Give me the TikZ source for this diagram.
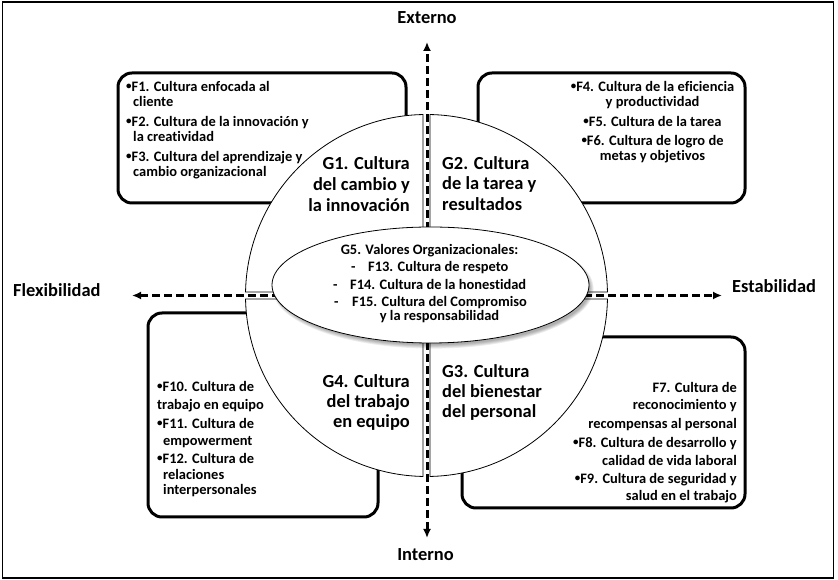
\documentclass[tikz,border=0pt]{standalone}
\usepackage{fontspec}
\setmainfont{Carlito}[Ligatures={NoCommon}]
\usetikzlibrary{arrows.meta}
\newcommand\bul{\raisebox{2.2bp}{\fontsize{11}{11}\selectfont •}}
\begin{document}
\begin{tikzpicture}[x=1bp,y=1bp,
  frame/.style={line width=1.3bp},
  fbox/.style={line width=3bp, rounded corners=14bp},
  quad/.style={line width=0.8bp, fill=white},
  axis/.style={line width=3bp, dash pattern=on 8bp off 4bp, {Latex[length=9bp,width=8bp]}-{Latex[length=9bp,width=8bp]}},
  big/.style={font=\fontsize{18.5}{21}\selectfont\bfseries, inner sep=0pt},
  sm/.style={font=\fontsize{14.5}{16}\selectfont\bfseries, inner sep=0pt}]
\useasboundingbox (0,0) rectangle (838,580);
\draw[frame] (2.5,2) rectangle (833.5,578);
% boxes
\draw[fbox] (118,377) rectangle (406,507);
\draw[fbox] (478,377) rectangle (745,507);
\draw[fbox] (148,63) rectangle (378,267);
\draw[fbox] (462,72) rectangle (745,243);
% quadrants
\coordinate (c) at (426.5,284.5);
\pgfmathsetmacro\ga{asin(3.5/181)}
\pgfmathsetmacro\aA{90+\ga}\pgfmathsetmacro\aB{180-\ga}
\pgfmathsetmacro\aC{180+\ga}\pgfmathsetmacro\aD{270-\ga}
\pgfmathsetmacro\aE{270+\ga}\pgfmathsetmacro\aF{360-\ga}
\pgfmathsetmacro\aG{\ga}\pgfmathsetmacro\aH{90-\ga}
\draw[quad] ([shift={(c)}]-3.5,3.5) -- ([shift={(c)}]\aA:181) arc[start angle=\aA, end angle=\aB, radius=181] -- cycle;
\draw[quad] ([shift={(c)}]-3.5,-3.5) -- ([shift={(c)}]\aC:181) arc[start angle=\aC, end angle=\aD, radius=181] -- cycle;
\draw[quad] ([shift={(c)}]3.5,-3.5) -- ([shift={(c)}]\aE:181) arc[start angle=\aE, end angle=\aF, radius=181] -- cycle;
\draw[quad] ([shift={(c)}]3.5,3.5) -- ([shift={(c)}]\aG:181) arc[start angle=\aG, end angle=\aH, radius=181] -- cycle;
% axes
\coordinate (top) at (427,538);
\coordinate (bot) at (427,42);
\coordinate (lft) at (132,284.5);
\coordinate (rgt) at (722,284.5);
\draw[axis] (bot) -- (top);
\draw[axis] (lft) -- (rgt);
% ellipse with soft shadow
\foreach \k in {0,1,2,3,4}
  \fill[black, opacity=0.07] (433,291.5) ellipse [x radius=158.5+\k*0.9-1.5, y radius=58+\k*0.9-1.5];
\fill[white] (430.5,295) ellipse [x radius=158.5, y radius=58];
\draw[line width=0.8bp] (430.5,295) ellipse [x radius=158.5, y radius=58];
% axis labels
\node[big, anchor=base] (ext) at (427,556) {Externo};
\node[big, anchor=base] (int) at (425.5,19) {Interno};
\node[big, anchor=base west] (flex) at (13,283) {Flexibilidad};
\node[big, anchor=base west] (est) at (732,287) {Estabilidad};
% G labels
\foreach \y/\t [count=\i] in {410/{G1. Cultura},389/{del cambio y},368/{la innovación}}
  \node[big, anchor=base east] (ga\i) at (410,\y) {\t};
\foreach \y/\t [count=\i] in {410/{G2. Cultura},390/{de la tarea y},369/{resultados}}
  \node[big, anchor=base west] (gb\i) at (442,\y) {\t};
\foreach \y/\t [count=\i] in {192/{G4. Cultura},172/{del trabajo},152/{en equipo}}
  \node[big, anchor=base east] (gd\i) at (410,\y) {\t};
\foreach \y/\t [count=\i] in {202/{G3. Cultura},182/{del bienestar},162/{del personal}}
  \node[big, anchor=base west] (gc\i) at (442,\y) {\t};
% TL box text
\foreach \x/\y/\t [count=\i] in {126/488/{\bul F1. Cultura enfocada al},133/473/{cliente},126/453/{\bul F2. Cultura de la innovación y},133/438/{la creatividad},126/418/{\bul F3. Cultura del aprendizaje y},133/403/{cambio organizacional}}
  \node[sm, anchor=base west] (tl\i) at (\x,\y) {\t};
% TR box text
\foreach \y/\t [count=\i] in {488/{\bul F4. Cultura de la eficiencia},473/{y productividad},453/{\bul F5. Cultura de la tarea},434/{\bul F6. Cultura de logro de},419/{metas y objetivos}}
  \node[sm, anchor=base] (tr\i) at (652.5,\y) {\t};
% BL box text
\foreach \x/\y/\t [count=\i] in {157/188/{\bul F10. Cultura de},157/170/{trabajo en equipo},157/151/{\bul F11. Cultura de},163/134/{empowerment},157/116/{\bul F12. Cultura de},163/100/{relaciones},163/85/{interpersonales}}
  \node[sm, anchor=base west] (bl\i) at (\x,\y) {\t};
% BR box text
\foreach \y/\t [count=\i] in {187/{F7. Cultura de},170/{reconocimiento y},151/{recompensas al personal},132/{\bul F8. Cultura de desarrollo y},114/{calidad de vida laboral},96/{\bul F9. Cultura de seguridad y},79/{salud en el trabajo}}
  \node[sm, anchor=base east] (br\i) at (737,\y) {\t};
% ellipse text
\node[sm, anchor=base] (g5) at (429.5,325) {G5. Valores Organizacionales:};
\node[sm, anchor=base west] (d13) at (351,308) {-};
\node[sm, anchor=base west] (f13) at (368,308) {F13. Cultura de respeto};
\node[sm, anchor=base west] (d14) at (333,290) {-};
\node[sm, anchor=base west] (f14) at (350,290) {F14. Cultura de la honestidad};
\node[sm, anchor=base west] (d15) at (334,273) {-};
\node[sm, anchor=base west] (f15) at (352,273) {F15. Cultura del Compromiso};
\node[sm, anchor=base] (f15b) at (439.5,259) {y la responsabilidad};
\end{tikzpicture}
\end{document}
